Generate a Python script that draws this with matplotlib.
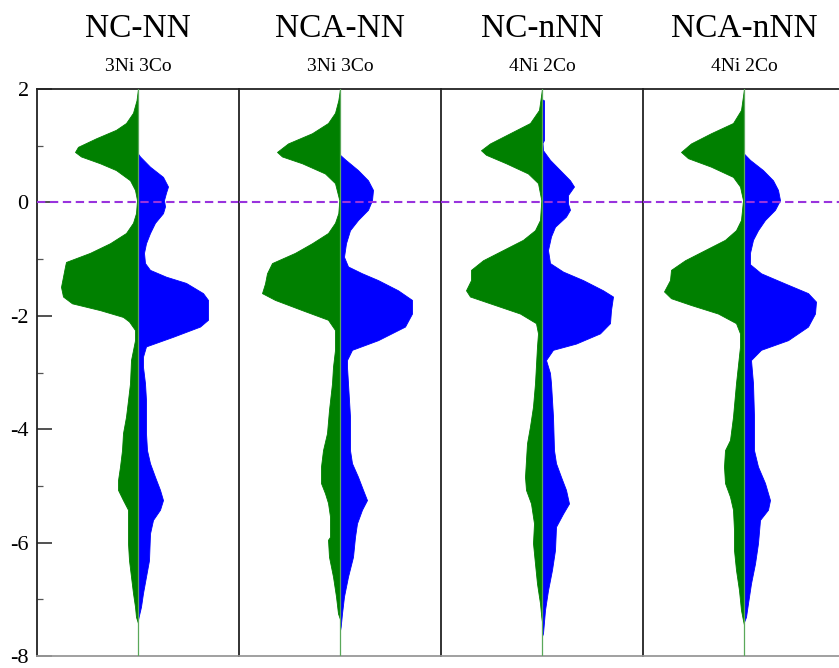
import matplotlib
matplotlib.use("Agg")
import matplotlib.pyplot as plt
from matplotlib.ticker import MultipleLocator

plt.rcParams['font.family'] = ['Liberation Serif', 'DejaVu Serif']
plt.rcParams['axes.unicode_minus'] = False

titles = ["NC-NN", "NCA-NN", "NC-nNN", "NCA-nNN"]
subtitles = ["3Ni 3Co", "3Ni 3Co", "4Ni 2Co", "4Ni 2Co"]

# ---- NC-NN ----
nc_nn_up_E = [2.0, 1.8, 1.58, 1.40, 1.28, 1.13, 0.98, 0.89, 0.81, 0.69, 0.57, 0.39, 0.22, 0.04, -0.19, -0.36,
              -0.54, -0.72, -0.89, -1.05, -1.13, -1.31, -1.49, -1.66, -1.78, -1.90, -2.02, -2.10, -2.25, -2.43,
              -2.78, -3.19, -3.49, -3.78, -4.07, -4.37, -4.66, -4.90, -5.07, -5.25, -5.42, -5.72, -6.01, -6.31,
              -6.60, -6.89, -7.13, -7.31, -7.42]
nc_nn_up = [0, 0.15, 0.5, 1.2, 2.2, 4.2, 6.0, 6.3, 5.7, 3.8, 2.2, 0.8, 0.3, 0.1, 0.2, 0.5,
            1.2, 2.8, 4.8, 7.2, 7.3, 7.5, 7.7, 7.5, 6.6, 3.8, 1.5, 0.9, 0.3, 0.3,
            0.7, 0.8, 1.0, 1.2, 1.5, 1.6, 1.8, 2.0, 2.0, 1.5, 1.0, 1.0, 1.0, 0.9,
            0.7, 0.5, 0.3, 0.2, 0]
nc_nn_dn_E = [0.86, 0.81, 0.63, 0.45, 0.28, 0.17, 0.04, -0.07, -0.19, -0.36, -0.54, -0.72, -0.89, -1.07, -1.19,
              -1.31, -1.42, -1.60, -1.72, -1.95, -2.07, -2.19, -2.37, -2.54, -2.72, -2.90, -3.19, -3.49, -4.07,
              -4.37, -4.60, -4.84, -5.07, -5.25, -5.42, -5.60, -5.84, -6.31, -6.60, -6.89, -7.13, -7.28, -7.36]
nc_nn_dn = [0, 0.2, 1.2, 2.5, 3.0, 2.8, 2.6, 2.7, 2.5, 1.7, 1.2, 0.8, 0.6, 0.7, 1.2,
            2.8, 4.8, 6.5, 7.0, 7.0, 7.0, 6.2, 3.5, 0.8, 0.5, 0.5, 0.7, 0.8, 0.8,
            0.9, 1.2, 1.7, 2.2, 2.5, 2.2, 1.5, 1.2, 1.1, 0.8, 0.5, 0.3, 0.1, 0]

# ---- NCA-NN ----
nca_nn_up_E = [2.0, 1.8, 1.58, 1.40, 1.22, 1.04, 0.89, 0.81, 0.69, 0.51, 0.34, 0.04, -0.19, -0.36, -0.54, -0.72,
               -0.89, -1.07, -1.25, -1.43, -1.60, -1.72, -1.90, -2.07, -2.25, -2.60, -2.90, -3.19, -3.66, -4.07,
               -4.37, -4.66, -4.95, -5.13, -5.30, -5.54, -5.90, -5.95, -6.25, -6.60, -6.95, -7.25, -7.35]
nca_nn_up = [0, 0.17, 0.5, 1.2, 2.8, 5.2, 6.3, 5.8, 3.8, 1.5, 0.5, 0.07, 0.17, 0.5, 1.2, 2.8,
             4.5, 6.8, 7.3, 7.5, 7.8, 6.5, 3.8, 1.2, 0.5, 0.5, 0.7, 0.8, 1.1, 1.3,
             1.7, 1.9, 1.9, 1.5, 1.2, 1.0, 1.0, 1.2, 1.1, 0.7, 0.4, 0.2, 0]
nca_nn_dn_E = [0.84, 0.76, 0.57, 0.39, 0.22, 0.04, -0.13, -0.31, -0.49, -0.72, -0.96, -1.13, -1.25, -1.37, -1.55,
               -1.72, -1.96, -2.19, -2.43, -2.60, -2.78, -2.90, -3.19, -3.78, -4.37, -4.60, -4.84, -5.07, -5.25,
               -5.42, -5.66, -5.90, -6.25, -6.60, -6.95, -7.25, -7.48, -7.55]
nca_nn_dn = [0, 0.5, 1.8, 2.8, 3.3, 3.2, 2.8, 1.8, 1.0, 0.6, 0.4, 0.8, 2.2, 3.8, 5.8,
             7.2, 7.2, 6.5, 3.8, 1.2, 0.7, 0.7, 0.8, 1.0, 1.0, 1.2, 1.8, 2.3, 2.7,
             2.2, 1.7, 1.5, 1.3, 0.8, 0.4, 0.2, 0.07, 0]

# ---- NC-nNN ----
nc_nnn_up_E = [2.0, 1.63, 1.40, 1.22, 1.04, 0.92, 0.84, 0.69, 0.51, 0.34, 0.04, -0.31, -0.49, -0.66, -0.84,
               -1.02, -1.19, -1.37, -1.55, -1.66, -1.78, -1.96, -2.13, -2.31, -2.54, -3.19, -3.60, -3.95, -4.25,
               -4.54, -4.84, -5.07, -5.31, -5.66, -6.01, -6.37, -6.72, -7.07, -7.31, -7.40]
nc_nnn_up = [0, 0.3, 1.2, 3.2, 5.2, 6.1, 5.6, 3.6, 1.4, 0.4, 0.07, 0.2, 0.7, 1.9, 3.9,
             5.9, 7.1, 7.1, 7.6, 7.2, 5.2, 2.2, 0.6, 0.4, 0.5, 0.7, 0.9, 1.2, 1.5,
             1.6, 1.7, 1.6, 1.1, 0.8, 0.9, 0.7, 0.5, 0.2, 0.07, 0]
nc_nnn_dn_E = [1.82, 1.80, 1.10, 1.05, 0.92, 0.75, 0.57, 0.39, 0.28, 0.13, -0.02, -0.13, -0.25, -0.43, -0.60,
               -0.84, -1.07, -1.22, -1.37, -1.55, -1.66, -1.90, -2.13, -2.31, -2.49, -2.60, -2.78, -3.01, -3.19,
               -3.78, -4.37, -4.60, -4.84, -5.07, -5.31, -5.49, -5.72, -6.13, -6.48, -6.84, -7.19, -7.60, -7.65]
nc_nnn_dn = [0, 0.2, 0.2, 0.05, 0.1, 0.8, 1.8, 2.8, 3.2, 2.6, 2.6, 2.8, 2.4, 1.3, 0.9,
             0.6, 0.8, 2.1, 4.1, 6.1, 7.1, 6.9, 6.8, 5.8, 3.4, 1.1, 0.4, 0.8, 0.9,
             1.1, 1.2, 1.4, 1.9, 2.4, 2.7, 2.1, 1.4, 1.3, 1.0, 0.6, 0.3, 0.1, 0]

# ---- NCA-nNN ----
nca_nnn_up_E = [2.0, 1.63, 1.40, 1.22, 1.04, 0.89, 0.78, 0.63, 0.45, 0.28, 0.04, -0.31, -0.49, -0.66, -0.84,
                -1.02, -1.19, -1.37, -1.57, -1.69, -1.81, -1.96, -2.13, -2.31, -2.54, -3.19, -3.78, -4.19, -4.37,
                -4.66, -4.95, -5.19, -5.42, -5.78, -6.13, -6.48, -6.84, -7.19, -7.37, -7.45]
nca_nnn_up = [0, 0.3, 1.1, 3.3, 5.3, 6.3, 5.6, 3.3, 1.1, 0.4, 0.1, 0.3, 0.8, 1.9, 3.9,
              5.9, 7.3, 7.4, 8.0, 7.3, 5.3, 2.6, 0.8, 0.4, 0.4, 0.8, 1.1, 1.4, 1.9,
              2.0, 1.9, 1.4, 1.1, 1.0, 1.0, 0.8, 0.5, 0.3, 0.1, 0]
nca_nnn_dn_E = [0.86, 0.75, 0.57, 0.39, 0.22, 0.04, -0.13, -0.31, -0.49, -0.66, -0.89, -1.09, -1.25, -1.43,
                -1.60, -1.75, -1.96, -2.19, -2.43, -2.60, -2.78, -3.19, -3.78, -4.37, -4.66, -4.95, -5.25, -5.42,
                -5.60, -6.01, -6.37, -6.72, -7.07, -7.31, -7.40]
nca_nnn_dn = [0, 0.6, 1.9, 2.9, 3.4, 3.6, 3.1, 2.1, 1.4, 0.9, 0.6, 0.6, 1.7, 4.1,
              6.4, 7.2, 7.1, 6.4, 4.4, 1.7, 0.7, 0.9, 1.0, 1.0, 1.4, 2.1, 2.6, 2.4,
              1.6, 1.4, 1.1, 0.7, 0.4, 0.2, 0]

panels = [
    (nc_nn_up_E, nc_nn_up, nc_nn_dn_E, nc_nn_dn),
    (nca_nn_up_E, nca_nn_up, nca_nn_dn_E, nca_nn_dn),
    (nc_nnn_up_E, nc_nnn_up, nc_nnn_dn_E, nc_nnn_dn),
    (nca_nnn_up_E, nca_nnn_up, nca_nnn_dn_E, nca_nnn_dn),
]

W, H = 839, 668
fig = plt.figure(figsize=(W / 100, H / 100), dpi=100)

left_px, top_px, bot_px, pw = 37, 89, 656, 202
for i, (ue, uv, de, dv) in enumerate(panels):
    x0 = left_px + i * pw
    ax = fig.add_axes([x0 / W, 1 - bot_px / H, pw / W, (bot_px - top_px) / H])
    ax.fill_betweenx(ue, [-v for v in uv], 0, color='#008000', lw=0.6, edgecolor='#008000')
    ax.fill_betweenx(de, 0, dv, color='#0000ff', lw=0.6, edgecolor='#0000ff')
    ax.axvline(0, color='#5aa85a', lw=0.9, zorder=3)
    ax.axhline(0, color='#9933dd', lw=1.5, dashes=(4, 2.2), zorder=4)
    ax.set_xlim(-10.1, 10.1)
    ax.set_ylim(-8, 2)
    ax.set_xticks([])
    for s in ['top', 'left']:
        ax.spines[s].set_color('#222222')
        ax.spines[s].set_linewidth(1.3)
    ax.spines['bottom'].set_color('#999999')
    ax.spines['bottom'].set_linewidth(1.3)
    ax.spines['right'].set_visible(False)
    if i == 0:
        ax.yaxis.set_major_locator(MultipleLocator(2))
        ax.yaxis.set_minor_locator(MultipleLocator(1))
        ax.tick_params(axis='y', which='major', direction='in', length=10.8, width=1.1,
                       labelsize=16, pad=6, color='#222222')
        ax.tick_params(axis='y', which='minor', direction='in', length=4.3, width=0.9,
                       color='#555555')
    else:
        ax.set_yticks([])
    cx = (x0 + pw / 2) / W
    fig.text(cx, 1 - 37 / H, titles[i], ha='center', va='baseline', fontsize=24)
    fig.text(cx, 1 - 71 / H, subtitles[i], ha='center', va='baseline', fontsize=14)

fig.savefig('out.png', dpi=100)
